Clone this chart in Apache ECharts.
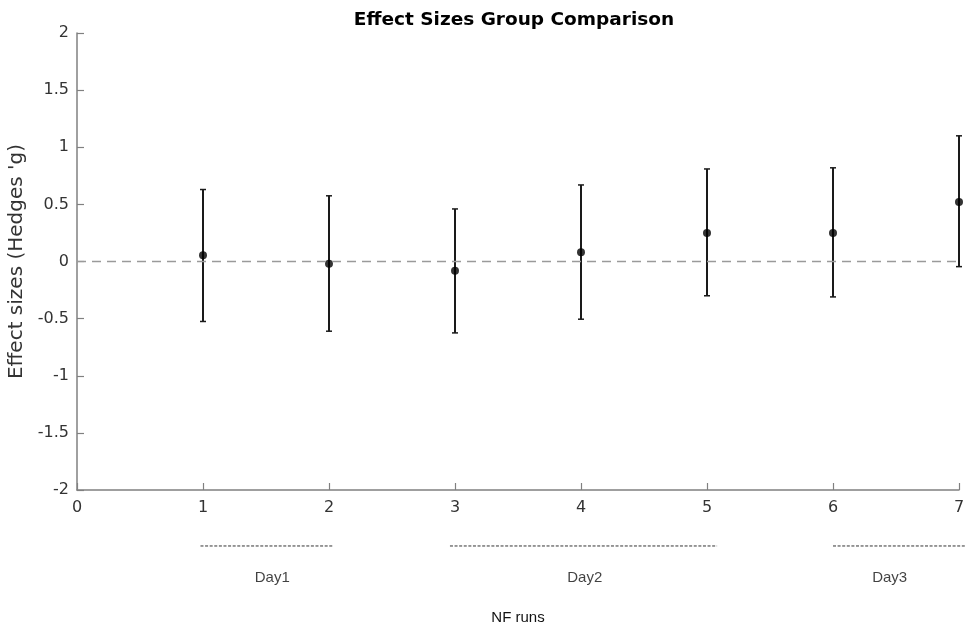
<!DOCTYPE html>
<html>
<head>
<meta charset="utf-8">
<script src="https://cdn.jsdelivr.net/npm/echarts@6/dist/echarts.min.js"></script>
<style>html,body{margin:0;padding:0;background:#fff}#c{width:966px;height:624px}</style>
</head>
<body>
<div id="c"></div>
<script>
var runs = [1, 2, 3, 4, 5, 6, 7];
var effect = [0.055, -0.02, -0.08, 0.08, 0.25, 0.25, 0.52];
var upper = [0.63, 0.575, 0.46, 0.67, 0.81, 0.82, 1.10];
var lower = [-0.525, -0.61, -0.625, -0.505, -0.30, -0.31, -0.045];
var yTicks = [-2, -1.5, -1, -0.5, 0, 0.5, 1, 1.5, 2];
var days = ['Day1', 'Day2', 'Day3'];
var dayStart = [0.98, 2.96, 6.0];
var dayEnd = [2.03, 5.08, 7.06];
var dayLabelX = [1.55, 4.03, 6.45];
var dayLineY = -2.49;
var dayLabelY = -2.77;

var chart = echarts.init(document.getElementById('c'));
var errData = runs.map(function (r, i) { return [r, lower[i], upper[i]]; });
var ptData = runs.map(function (r, i) { return [r, effect[i]]; });
var dayData = days.map(function (d, i) { return [dayStart[i], dayEnd[i], dayLineY]; });

var series = [
  {
    type: 'custom',
    clip: false,
    data: errData,
    renderItem: function (params, api) {
      var x = api.value(0);
      var lo = api.coord([x, api.value(1)]);
      var hi = api.coord([x, api.value(2)]);
      var w = 3;
      var st = { stroke: '#1a1a1a', lineWidth: 2 };
      return {
        type: 'group',
        children: [
          { type: 'line', shape: { x1: lo[0], y1: lo[1], x2: hi[0], y2: hi[1] }, style: st },
          { type: 'line', shape: { x1: hi[0] - w, y1: hi[1], x2: hi[0] + w, y2: hi[1] }, style: { stroke: '#1a1a1a', lineWidth: 1.5 } },
          { type: 'line', shape: { x1: lo[0] - w, y1: lo[1], x2: lo[0] + w, y2: lo[1] }, style: { stroke: '#1a1a1a', lineWidth: 1.5 } }
        ]
      };
    },
    z: 3
  },
  {
    type: 'scatter',
    data: ptData,
    symbol: 'circle',
    symbolSize: 8,
    clip: false,
    itemStyle: { color: '#000' },
    z: 4,
    markLine: {
      silent: true,
      symbol: 'none',
      label: { show: false },
      lineStyle: { color: '#9a9a9a', type: [9, 6], width: 1.3 },
      data: [{ yAxis: 0 }]
    }
  },
  {
    type: 'custom',
    clip: false,
    silent: true,
    data: dayData,
    renderItem: function (params, api) {
      var a = api.coord([api.value(0), api.value(2)]);
      var b = api.coord([api.value(1), api.value(2)]);
      return {
        type: 'line',
        shape: { x1: a[0], y1: a[1], x2: b[0], y2: b[1] },
        style: { stroke: '#333', lineWidth: 1, lineDash: [3, 1.6] }
      };
    }
  },
  {
    type: 'scatter',
    clip: false,
    silent: true,
    symbolSize: 0,
    data: days.map(function (d, i) { return { value: [dayLabelX[i], dayLabelY], name: d }; }),
    label: {
      show: true,
      position: 'inside',
      formatter: '{b}',
      fontFamily: 'Liberation Sans, Arial, sans-serif',
      fontSize: 15,
      color: '#111'
    }
  }
];

chart.setOption({
  animation: false,
  backgroundColor: '#fff',
  title: {
    text: 'Effect Sizes Group Comparison',
    left: 509,
    textAlign: 'center',
    top: 6,
    textStyle: { fontFamily: 'DejaVu Sans', fontWeight: 'bold', fontSize: 18.5, color: '#000' }
  },
  grid: { left: 77, right: 7, top: 33, bottom: 134, containLabel: false, outerBoundsMode: 'none' },
  xAxis: {
    type: 'value',
    min: 0, max: 7, interval: 1,
    name: 'NF runs',
    nameLocation: 'middle',
    nameGap: 120,
    nameTextStyle: { fontFamily: 'Liberation Sans, Arial, sans-serif', fontSize: 15, color: '#111' },
    axisLine: { show: true, onZero: false, lineStyle: { color: '#808080', width: 1.5 } },
    axisTick: { show: true, inside: true, length: 7, lineStyle: { color: '#808080', width: 1.2 } },
    axisLabel: { fontFamily: 'DejaVu Sans', fontSize: 16, color: '#333', margin: 10 },
    splitLine: { show: false }
  },
  yAxis: {
    type: 'value',
    min: -2, max: 2, interval: 0.5,
    name: "Effect sizes (Hedges 'g)",
    nameLocation: 'middle',
    nameGap: 46,
    nameRotate: 90,
    nameTextStyle: { fontFamily: 'DejaVu Sans', fontSize: 20, color: '#333' },
    axisLine: { show: true, onZero: false, lineStyle: { color: '#808080', width: 1.5 } },
    axisTick: { show: true, inside: true, length: 7, lineStyle: { color: '#808080', width: 1.2 } },
    axisLabel: {
      fontFamily: 'DejaVu Sans', fontSize: 16, color: '#333', margin: 8,
      formatter: function (v) { return yTicks.indexOf(v) >= 0 ? String(v) : ''; }
    },
    splitLine: { show: false }
  },
  series: series
});
</script>
</body>
</html>
